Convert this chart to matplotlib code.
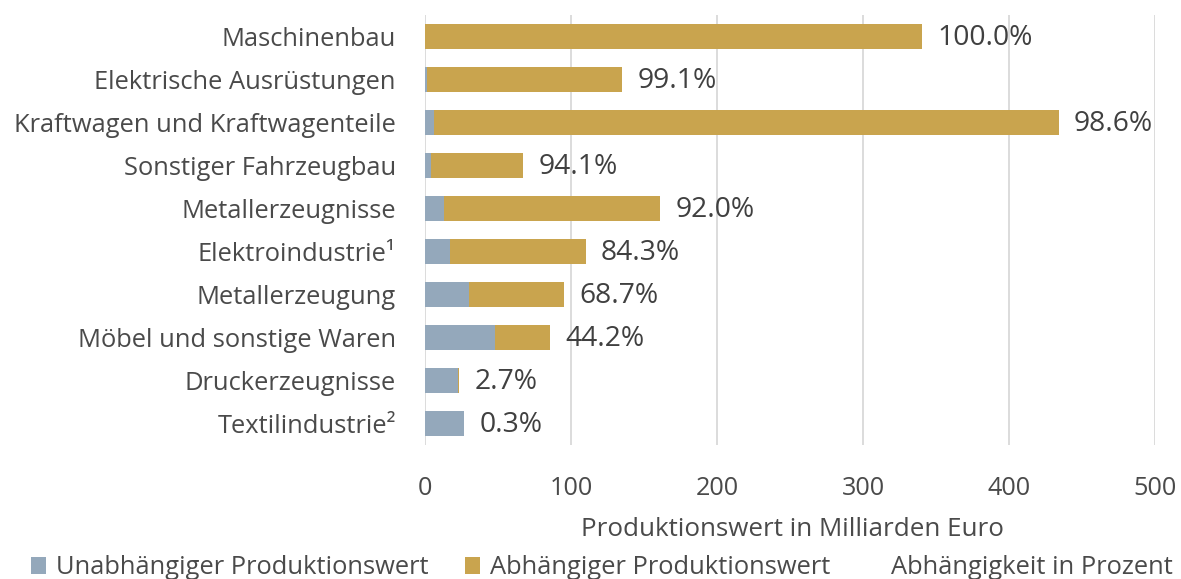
import matplotlib.pyplot as plt
from matplotlib.patches import Patch

categories = ["Maschinenbau", "Elektrische Ausrüstungen", "Kraftwagen und Kraftwagenteile",
              "Sonstiger Fahrzeugbau", "Metallerzeugnisse", "Elektroindustrie¹",
              "Metallerzeugung", "Möbel und sonstige Waren", "Druckerzeugnisse", "Textilindustrie²"]
unabhaengig = [0.1, 1.2, 6.1, 4.0, 12.9, 17.3, 29.8, 47.8, 22.7, 26.9]
abhaengig = [340.3, 133.8, 427.9, 63.3, 148.1, 92.7, 65.4, 37.8, 0.63, 0.08]
prozent = ["100.0%", "99.1%", "98.6%", "94.1%", "92.0%", "84.3%", "68.7%", "44.2%", "2.7%", "0.3%"]
xticks = [0, 100, 200, 300, 400, 500]

plt.rcParams['font.family'] = ['Open Sans', 'DejaVu Sans']

BLUE = "#94A8BB"
GOLD = "#C9A44E"
TXT = "#404040"

fig = plt.figure(figsize=(11.81, 5.79), dpi=100)
ax = fig.add_axes([425/1181, 1-445/579, 730/1181, 430/579])

y = list(range(len(categories)))
ax.barh(y, unabhaengig, height=0.6, color=BLUE, zorder=3)
ax.barh(y, abhaengig, left=unabhaengig, height=0.6, color=GOLD, zorder=3)
for i in y:
    total = unabhaengig[i] + abhaengig[i]
    ax.annotate(prozent[i], (total, i), xytext=(11, -1), textcoords="offset points",
                va="center", ha="left", fontsize=20.3, color=TXT, clip_on=False)

ax.set_ylim(len(categories) - 0.5, -0.5)
ax.set_xlim(0, 500)
ax.set_yticks(y)
ax.set_yticklabels(categories, fontsize=18.4, color="#4A4A4A")
ax.set_xticks(xticks)
ax.set_xticklabels([str(t) for t in xticks], fontsize=18.2, color="#4A4A4A")
ax.tick_params(axis='y', length=0, pad=21)
ax.tick_params(axis='x', length=0, pad=22)
ax.grid(axis='x', color="#D9D9D9", linewidth=1.3, zorder=0)
for s in ax.spines.values():
    s.set_visible(False)

fig.text((582 + 1002) / 2 / 1181, 1 - 529/579, "Produktionswert in Milliarden Euro",
         ha="center", va="center", fontsize=18.7, color="#4A4A4A")

handles = [Patch(facecolor=BLUE), Patch(facecolor=GOLD), Patch(facecolor="none", edgecolor="none")]
labels = ["Unabhängiger Produktionswert", "Abhängiger Produktionswert", "Abhängigkeit in Prozent"]
fig.legend(handles, labels, loc="center", bbox_to_anchor=(602/1181, 1 - 568/579), ncol=3,
           frameon=False, fontsize=18.4, labelcolor="#4A4A4A", handlelength=0.59, handleheight=0.59,
           handletextpad=0.39, columnspacing=1.4, borderpad=0, borderaxespad=0)

fig.savefig("out.png", dpi=100)
